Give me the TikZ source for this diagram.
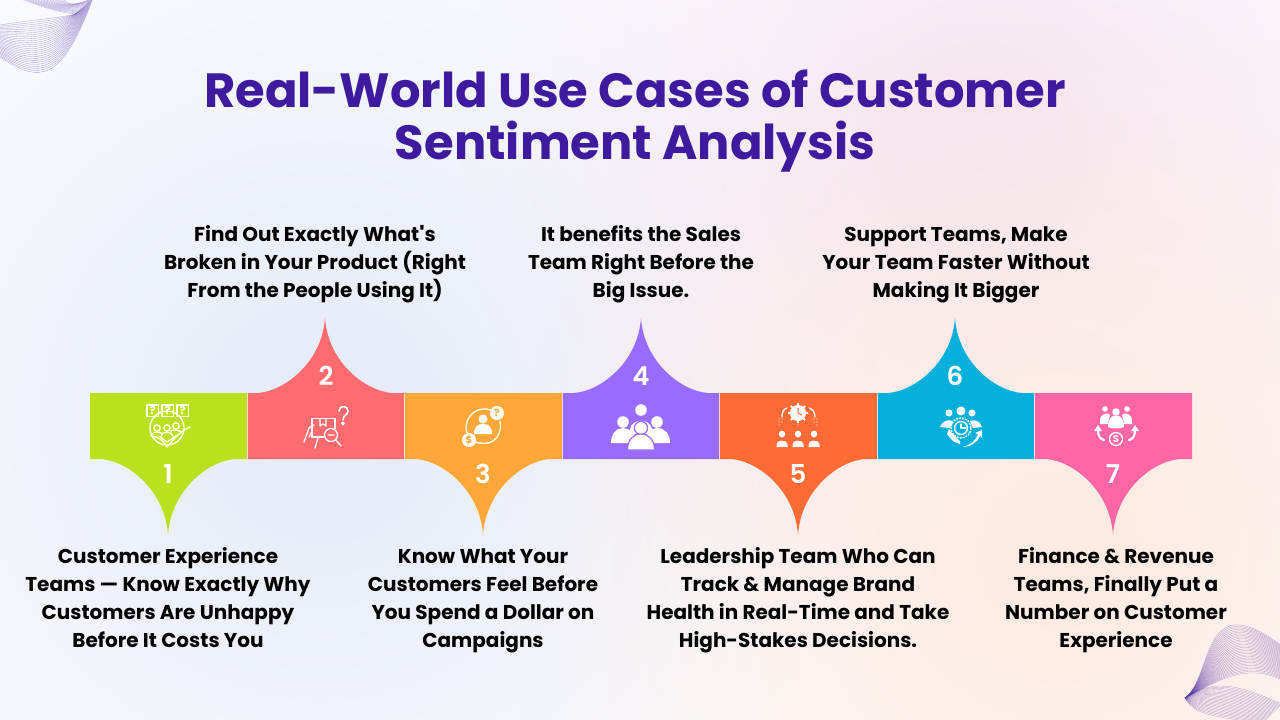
\documentclass[tikz,border=0pt]{standalone}
\usepackage{fontspec}
\setmainfont{Poppins}[BoldFont=Poppins Bold]
\newfontfamily\numfont{Poppins SemiBold}
\newfontfamily\plainbold{Poppins Bold}
\usetikzlibrary{fadings}
\definecolor{cA}{HTML}{BBE11E}
\definecolor{cB}{HTML}{FF6B6E}
\definecolor{cC}{HTML}{FFA738}
\definecolor{cD}{HTML}{9A6BFF}
\definecolor{cE}{HTML}{FF6B35}
\definecolor{cF}{HTML}{03B0DC}
\definecolor{cG}{HTML}{FF66A6}
\definecolor{titlecol}{HTML}{3D1A9E}
\definecolor{wavecol}{HTML}{5F3FAE}
\tikzfading[name=blob, inner color=transparent!0, outer color=transparent!100]
\tikzset{
  titletext/.style={font=\fontsize{48}{52}\selectfont\bfseries, text=titlecol, align=center, inner sep=0},
  bodytext/.style={font=\fontsize{20}{28}\selectfont\bfseries, text=black, align=center, inner sep=0},
  numtext/.style={font=\fontsize{26}{26}\selectfont\numfont, text=white, inner sep=0},
  ln/.style={draw=white, line width=1.3pt, line cap=round, line join=round, fill=none},
  wave/.style={draw=wavecol, line width=0.3pt, opacity=0.5},
  sep/.style={draw=white, line width=0.8pt, opacity=0.75}
}
\newcommand{\segdown}[4]{\fill[#1] (#2,393) -- (#3,393) -- (#3,459) -- (#4+67,459) .. controls (#4+40,461) and (#4+3,490) .. (#4,535) .. controls (#4-3,490) and (#4-40,461) .. (#4-67,459) -- (#2,459) -- cycle;}
\newcommand{\segup}[4]{\fill[#1] (#2,459) -- (#3,459) -- (#3,393) -- (#4+67,393) .. controls (#4+40,391) and (#4+3,362) .. (#4,318) .. controls (#4-3,362) and (#4-40,391) .. (#4-67,393) -- (#2,393) -- cycle;}
\newcommand{\mixp}[4]{({#1+(#3-(#1))*\s},{#2+(#4-(#2))*\s})}
\begin{document}
\begin{tikzpicture}[x=1pt,y=-1pt]
\useasboundingbox (0,0) rectangle (1280,720);
\begin{scope}
\clip (0,0) rectangle (1280,720);
\fill[white!99!blue] (0,0) rectangle (1280,720);
\fill[color={rgb,255:red,228;green,234;blue,248}, path fading=blob] (320,420) circle[radius=560];
\fill[color={rgb,255:red,245;green,228;blue,241}, path fading=blob] (980,150) circle[radius=520];
\fill[color={rgb,255:red,254;green,234;blue,224}, path fading=blob] (1060,560) circle[radius=560];
% wave decoration top left
\foreach \i in {0,...,26}{\pgfmathsetmacro{\s}{\i/26}
 \draw[wave] \mixp{0}{25}{0}{57} .. controls \mixp{30}{20}{40}{84} and \mixp{60}{18}{62}{82} .. \mixp{76}{14}{93}{-2};}
\foreach \i in {0,...,14}{\pgfmathsetmacro{\s}{\i/14}
 \draw[wave] \mixp{18}{-2}{62}{-2} .. controls \mixp{35}{4}{70}{6} and \mixp{55}{12}{74}{6} .. \mixp{76}{14}{93}{-2};}
% wave decoration bottom right
\foreach \i in {0,...,32}{\pgfmathsetmacro{\s}{\i/32}
 \draw[wave] \mixp{1185}{698}{1185}{698} .. controls \mixp{1214}{676}{1216}{682} and \mixp{1200}{584}{1245}{662} .. \mixp{1282}{646}{1282}{680};}
\foreach \i in {0,...,22}{\pgfmathsetmacro{\s}{\i/22}
 \draw[wave] \mixp{1185}{698}{1185}{698} .. controls \mixp{1215}{676}{1196}{718} and \mixp{1245}{688}{1222}{716} .. \mixp{1282}{704}{1262}{724};}
\end{scope}

% title
\node[titletext] (title) at (635,121) {Real-World Use Cases of Customer\\Sentiment Analysis};

% segments
\segdown{cA}{90}{247}{168}
\segup{cB}{247}{404}{325}
\segdown{cC}{404}{562}{483}
\segup{cD}{562}{719}{641}
\segdown{cE}{719}{877}{798}
\segup{cF}{877}{1034}{955}
\segdown{cG}{1034}{1192}{1113}
\foreach \x in {247,404,562,719,877,1034} \draw[sep] (\x,393) -- (\x,459);

% numbers
\node[numtext] (n1) at (168,474) {1};
\node[numtext] (n2) at (326,376) {2};
\node[numtext] (n3) at (483,474) {3};
\node[numtext] (n4) at (641,376) {4};
\node[numtext] (n5) at (798,474) {5};
\node[numtext] (n6) at (955,376) {6};
\node[numtext] (n7) at (1113,474) {7};

% body texts
\node[bodytext] (t1) at (168,598) {Customer Experience\\Teams — Know Exactly Why\\Customers Are Unhappy\\Before It Costs You};
\node[bodytext] (t2) at (315,264) {Find Out Exactly What{\plainbold\symbol{39}}s\\Broken in Your Product (Right\\From the People Using It)};
\node[bodytext] (t3) at (483,601) {Know What Your\\Customers Feel Before\\You Spend a Dollar on\\Campaigns};
\node[bodytext] (t4) at (641,264) {It benefits the Sales\\Team Right Before the\\Big Issue.};
\node[bodytext] (t5) at (798,600) {Leadership Team Who Can\\Track \& Manage Brand\\Health in Real-Time and Take\\High-Stakes Decisions.};
\node[bodytext] (t6) at (956,265) {Support Teams, Make\\Your Team Faster Without\\Making It Bigger};
\node[bodytext] (t7) at (1116,600) {Finance \& Revenue\\Teams, Finally Put a\\Number on Customer\\Experience};

% icon 1
\foreach \x in {147,162,177} {
  \draw[ln] (\x,405) rectangle (\x+11.5,416.5);
  \node[text=white,font=\fontsize{11}{11}\selectfont\bfseries,inner sep=0] at (\x+5.75,410.7) {?};
}
\draw[ln] (167,428) circle[radius=17];
\draw[ln] (157,428) circle[radius=3.2] (167,428) circle[radius=3.2] (176,426) circle[radius=3.2];
\draw[ln] (151,436) .. controls (152,431) and (161,431) .. (162,434) (161,436) .. controls (162,431) and (172,431) .. (173,436) (171,431) .. controls (174,429) and (180,430) .. (182,433);
\draw[ln] (151,436) .. controls (158,436) and (165,442) .. (167,447) .. controls (172,442) and (178,432) .. (190,427) (159,436) -- (167,442) -- (176,436);

% icon 2
\draw[ln] (312,418.5) rectangle (335,437);
\draw[ln] (320,418.5) -- (320,426) -- (323,424) -- (326,426) -- (326,418.5);
\draw[ln] (304,442) -- (309,428) -- (314,425) (312,431) -- (309,437) (318,438) -- (315,448);
\fill[cB] (331,435) circle[radius=7.5];
\draw[ln] (331,435) circle[radius=6.5] (328,435) -- (334,435) (336,440) -- (341,446);
\draw[ln,line width=1.6pt] (339,411) .. controls (339,405) and (348,405) .. (348,411) .. controls (348,415) and (343,415) .. (343,420);
\draw[ln] (343,423.5) circle[radius=1.3];

% icon 3
\draw[ln] (488,443) .. controls (497,441) and (502,432) .. (500,421);
\draw[ln] (491,410) .. controls (480,406) and (467,413) .. (466,427) .. controls (466,431) and (467,433) .. (468,434);
\draw[ln] (475,442) .. controls (480,443.5) and (484,443.5) .. (488,443);
\fill[white] (483,419) circle[radius=4.5];
\fill[white] (474,434) .. controls (474,426) and (478,424) .. (483,424) .. controls (488,424) and (492,426) .. (492,434) -- cycle;
\fill[white] (497,413) circle[radius=7];
\node[text=cC,font=\fontsize{10}{10}\selectfont\bfseries,inner sep=0] at (497,413) {?};
\fill[white] (469,440) circle[radius=7];
\node[text=cC,font=\fontsize{10}{10}\selectfont\bfseries,inner sep=0] at (469,440) {\$};

% icon 4
\fill[white] (641,410) circle[radius=5.8];
\fill[white] (623,422) circle[radius=5.8];
\fill[white] (657,422) circle[radius=5.8];
\fill[white] (630,429) .. controls (632,418) and (650,418) .. (652,429) -- (652,434) -- (630,434) -- cycle;
\fill[white] (611,443) .. controls (611,434) and (616,428) .. (623,428) .. controls (630,428) and (636,434) .. (636,443) -- cycle;
\fill[white] (670,443) .. controls (670,434) and (665,428) .. (657,428) .. controls (650,428) and (645,434) .. (645,443) -- cycle;
\draw[cD, line width=1.2pt, fill=white] (641,428) circle[radius=6.6];
\draw[cD, line width=1.2pt, fill=white] (627.5,450) .. controls (627.5,440) and (633,434) .. (641,434) .. controls (649,434) and (654.5,440) .. (654.5,450) -- cycle;

% icon 5
\fill[white] (798,413) circle[radius=8];
\foreach \a in {0,45,...,315} \fill[white] (798,413) ++(\a:9) circle[radius=1.4];
\draw[cE,line width=1pt] (798,408) -- (798,413) -- (802,415);
\draw[ln] (787,408) .. controls (783,409) and (782,413) .. (782,417);
\draw[ln] (809,408) .. controls (813,409) and (815,413) .. (815,417);
\foreach \x/\y in {779/419,779/422,779/425,817/419,817/422,817/425,782/419,782/422,814/419,814/422,798/425}
  \fill[white] (\x,\y) circle[radius=0.7];
\foreach \x in {782,798,814} {
  \fill[white] (\x,434) circle[radius=3.3];
  \fill[white] (\x-5.5,447) -- (\x-5.5,444) .. controls (\x-5,439.5) and (\x+5,439.5) .. (\x+5.5,444) -- (\x+5.5,447) -- cycle;
}

% icon 6
\fill[white] (949,413) circle[radius=3.5] (961,411) circle[radius=4.5] (972,413) circle[radius=3.5];
\fill[white] (940,427) .. controls (942,421) and (948,419) .. (953,421) -- (950,428) -- cycle;
\fill[white] (982,427) .. controls (980,421) and (975,419) .. (970,421) -- (973,428) -- cycle;
\fill[white] (949,429) -- (955,437) -- (960,441) -- (960,444) -- (953,441) -- (950,438) -- (947,434) -- cycle;
\draw[white,line width=1.4pt,dash pattern=on 2pt off 1pt] (961,428) circle[radius=10];
\draw[ln,line width=1.4pt] (961,428) circle[radius=6.5];
\draw[ln] (961,428) -- (966,428) (961,424) -- (961,428);
\fill[white] (962,447) .. controls (970,446) and (976,440) .. (978,434) -- (975,433) -- (982,430) -- (982,438) -- (980,436) .. controls (977,443) and (970,447) .. (962,447) -- cycle;

% icon 7
\fill[white] (1105,409) circle[radius=2.8] (1116,412) circle[radius=3.8] (1127,409) circle[radius=2.8];
\fill[white] (1100,421) .. controls (1100,413) and (1108,412) .. (1110,415) -- (1108,424) -- (1100,424) -- cycle;
\fill[white] (1132,421) .. controls (1132,413) and (1124,412) .. (1122,415) -- (1124,424) -- (1132,424) -- cycle;
\fill[white] (1108,427) .. controls (1108,418) and (1112,415.5) .. (1116,415.5) .. controls (1120,415.5) and (1124,418) .. (1124,427) .. controls (1120,429) and (1112,429) .. (1108,427) -- cycle;
\draw[ln] (1116,439) circle[radius=6.5];
\node[text=white,font=\fontsize{10}{10}\selectfont\bfseries,inner sep=0] at (1116,439) {S};
\draw[ln,line width=2.2pt] (1098,430) .. controls (1098,436) and (1100,439) .. (1104,440);
\fill[white] (1094,431) -- (1098,425) -- (1102,431) -- cycle;
\draw[ln,line width=2.2pt] (1135,430) .. controls (1135,436) and (1133,439) .. (1129,440);
\fill[white] (1131,431) -- (1135,425) -- (1139,431) -- cycle;
\end{tikzpicture}
\end{document}
